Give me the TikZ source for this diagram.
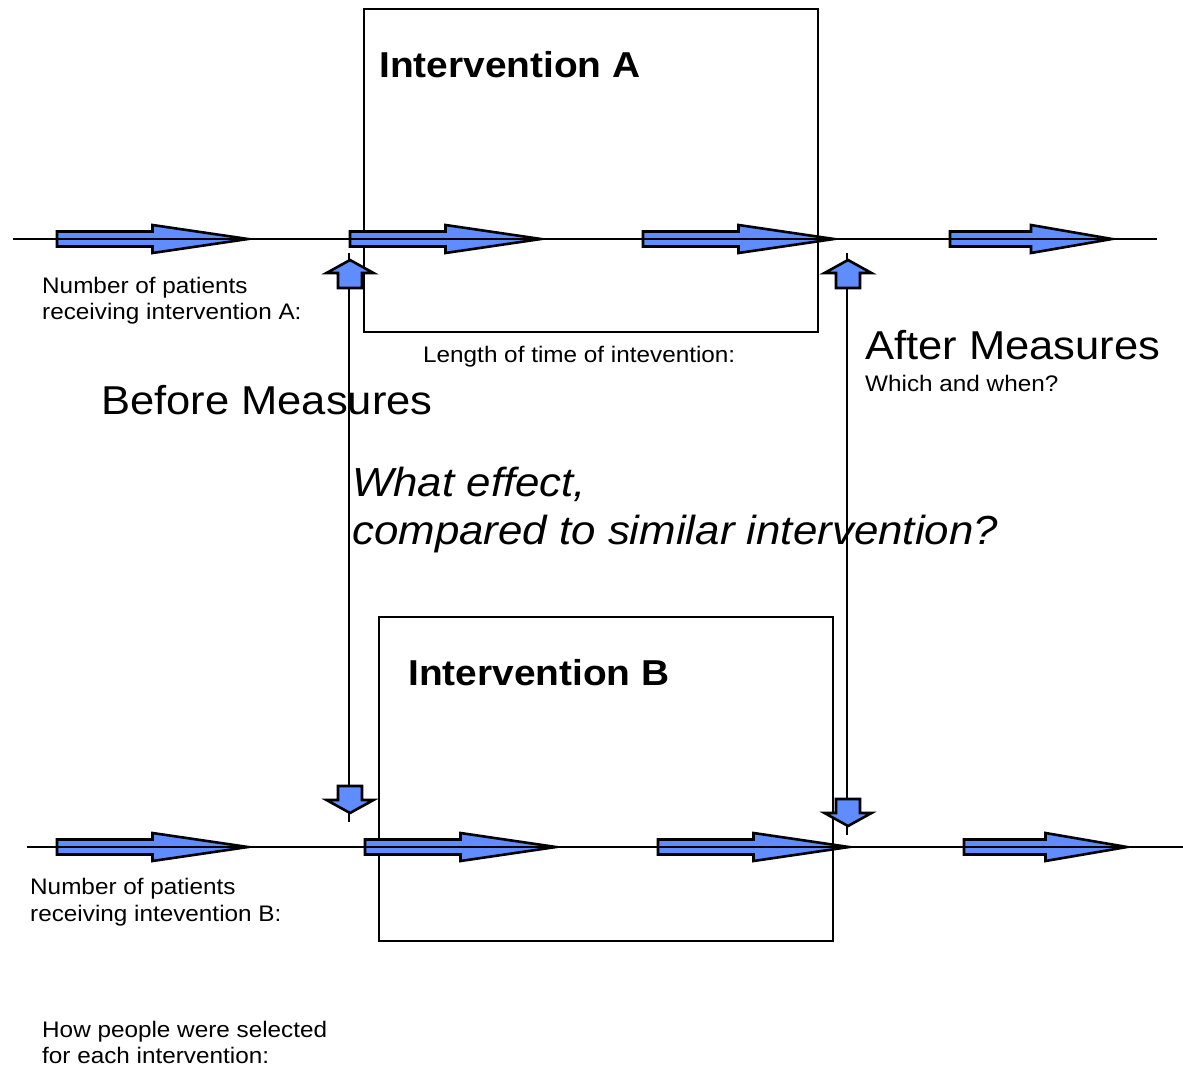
\documentclass[tikz,border=0pt]{standalone}
\usepackage{fontspec}
\setmainfont{Liberation Sans}[FakeStretch=1.08]
\definecolor{arrowblue}{RGB}{95,140,255}
\tikzset{
  axisline/.style={line width=2.2pt},
  boxline/.style={draw, line width=2.2pt, inner sep=0pt, outer sep=0pt},
  blockarrow/.style={draw=black, fill=arrowblue, line width=2.6pt},
  connline/.style={line width=2.2pt},
  smalltext/.style={font=\fontsize{22.5}{26}\selectfont, inner sep=0pt, align=left, anchor=base west},
  bigtext/.style={font=\fontsize{40.3}{48}\selectfont, inner sep=0pt, align=left, anchor=base west},
  titletext/.style={font=\bfseries\fontsize{36}{42}\selectfont, inner sep=0pt, anchor=base west},
  pics/harrow/.style={code={
    \path[blockarrow] (0,-7.5) -- ({#1/2},-7.5) -- ({#1/2},-14) -- (#1,0)
      -- ({#1/2},14) -- ({#1/2},7.5) -- (0,7.5) -- cycle;}},
  pics/uparrow/.style={code={
    \path[blockarrow] (0,0) -- (23.5,13) -- (12,13) -- (12,28) -- (-12,28)
      -- (-12,13) -- (-23.5,13) -- cycle;}},
  pics/downarrow/.style={code={
    \path[blockarrow] (0,0) -- (23.5,-13) -- (12,-13) -- (12,-27) -- (-12,-27)
      -- (-12,-13) -- (-23.5,-13) -- cycle;}},
}
\begin{document}
\begin{tikzpicture}[x=1pt,y=-1pt]
\useasboundingbox (0,0) rectangle (1183,1068);

% boxes
\node[boxline, minimum width=454pt, minimum height=323pt] (boxA) at (591,170.5) {};
\node[boxline, minimum width=454pt, minimum height=324pt] (boxB) at (606,779) {};

% horizontal block arrows, row A
\pic at (57,239) {harrow=191};
\pic at (350,239) {harrow=191};
\pic at (643,239) {harrow=191};
\pic at (950,239) {harrow=162};
% row B
\pic at (57,847) {harrow=191};
\pic at (365,847) {harrow=191};
\pic at (658,847) {harrow=191};
\pic at (964,847) {harrow=163};

% time axes
\coordinate (a1) at (13,239);
\coordinate (a2) at (1157,239);
\coordinate (b1) at (27,847);
\coordinate (b2) at (1183,847);
\draw[axisline] (a1) -- (a2);
\draw[axisline] (b1) -- (b2);

% vertical measure connectors
\coordinate (beforeTop) at (349,253);
\coordinate (beforeBot) at (349,822);
\coordinate (afterTop) at (847,253);
\coordinate (afterBot) at (847,835);
\draw[connline] (beforeTop) -- (beforeBot);
\draw[connline] (afterTop) -- (afterBot);
\pic at (350,260) {uparrow};
\pic at (350,813) {downarrow};
\pic at (848,260) {uparrow};
\pic at (848,826) {downarrow};

% texts
\node[titletext] (titleA) at (379,77) {Intervention A};
\node[titletext] (titleB) at (408,685) {Intervention B};
\node[smalltext] (numA) at (42,319) {Number of patients\\receiving intervention A:};
\node[smalltext] (lenA) at (423,362) {Length of time of intevention:};
\node[bigtext] (before) at (101,414) {Before Measures};
\node[bigtext] (after) at (865,359) {After Measures};
\node[smalltext] (which) at (865,391) {Which and when?};
\node[bigtext, font=\itshape\fontsize{40.6}{48}\selectfont] (effect) at (352,544) {What effect,\\compared to similar intervention?};
\node[smalltext, font=\fontsize{22.5}{27}\selectfont] (numB) at (30,921) {Number of patients\\receiving intevention B:};
\node[smalltext] (how) at (42,1063) {How people were selected\\for each intervention:};
\end{tikzpicture}
\end{document}
